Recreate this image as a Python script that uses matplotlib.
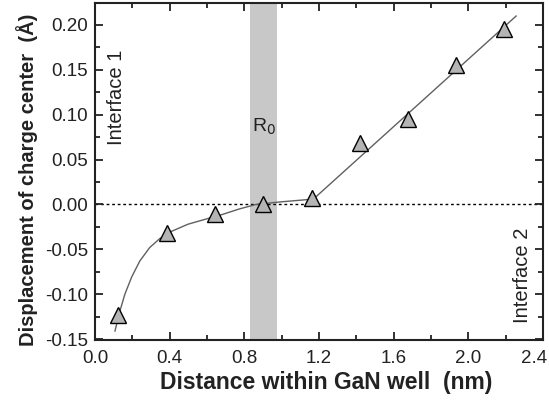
import matplotlib
matplotlib.use("Agg")
import matplotlib.pyplot as plt
from matplotlib.ticker import MultipleLocator
import matplotlib.transforms as mtransforms

plt.rcParams['font.family'] = ['Liberation Sans', 'DejaVu Sans']

# measured points
x_pts = [0.123, 0.385, 0.645, 0.90, 1.16, 1.42, 1.675, 1.935, 2.19]
y_pts = [-0.123, -0.032, -0.011, 0.001, 0.007, 0.068, 0.095, 0.155, 0.195]

# fitted curve
x_fit = [0.107, 0.133, 0.16, 0.196, 0.24, 0.293, 0.347, 0.409, 0.498, 0.587,
         0.684, 0.773, 0.862, 1.0, 1.17, 2.256]
y_fit = [-0.141, -0.119, -0.100, -0.081, -0.063, -0.048, -0.038, -0.030, -0.022, -0.0167,
         -0.011, -0.005, 0.0, 0.003, 0.006, 0.21]

band = [0.832, 0.976]

xticks = [0.0, 0.4, 0.8, 1.2, 1.6, 2.0, 2.4]
xtick_labels = ['0.0', '0.4', '0.8', '1.2', '1.6', '2.0', '2.4']
yticks = [-0.15, -0.10, -0.05, 0.00, 0.05, 0.10, 0.15, 0.20]
ytick_labels = ['-0.15', '-0.10', '-0.05', '0.00', '0.05', '0.10', '0.15', '0.20']

fig = plt.figure(figsize=(5.49, 4.01), dpi=100)
ax = fig.add_axes([95/549, 1-340/401, 448/549, 337/401])

ax.axvspan(band[0], band[1], color='#c8c8c8', lw=0, zorder=0)
ax.axhline(0, color='black', ls=(0, (2, 2)), lw=1.0, zorder=1)
ax.plot(x_fit, y_fit, color='#606060', lw=1.0, zorder=2)
ax.plot(x_pts, y_pts, ls='none', marker='^', ms=11, mfc='#b4b4b4', mec='black', mew=1.0, zorder=3)

ax.set_xlim(0, 2.4)
ax.set_ylim(-0.151, 0.2245)
ax.set_xticks(xticks)
ax.set_xticklabels(xtick_labels)
ax.xaxis.set_minor_locator(MultipleLocator(0.2))
ax.set_yticks(yticks)
ax.set_yticklabels(ytick_labels)
ax.yaxis.set_minor_locator(MultipleLocator(0.025))
ax.tick_params(which='both', direction='in', top=True, right=True, width=1.3, labelsize=13.5, colors='#222222')
ax.tick_params(which='major', length=6)
ax.tick_params(which='minor', length=3.5)
ax.tick_params(axis='x', pad=7)
ax.tick_params(axis='y', pad=5)
for s in ax.spines.values():
    s.set_linewidth(1.5)
    s.set_color('#222222')

# shift last x tick label left like reference
lbl = ax.get_xticklabels()[-1]
lbl.set_transform(lbl.get_transform() + mtransforms.ScaledTranslation(-9/100, 0, fig.dpi_scale_trans))

ax.set_xlabel('Distance within GaN well  (nm)', fontsize=16.5, fontweight='bold', color='#222222', labelpad=3)
ax.xaxis.label.set_x(0.516)
ax.set_ylabel('Displacement of charge center  (Å)', fontsize=14.5, fontweight='bold', color='#222222', labelpad=5)
ax.yaxis.label.set_y(0.475)

ax.text(0.114, 0.119, 'Interface 1', rotation=90, fontsize=14.5, ha='center', va='center', color='#222222')
ax.text(2.29, -0.079, 'Interface 2', rotation=90, fontsize=14.5, ha='center', va='center', color='#222222')
ax.text(0.905, 0.087, 'R$_0$', fontsize=14, ha='center', va='center', color='#222222')

fig.savefig('out.png', dpi=100)
